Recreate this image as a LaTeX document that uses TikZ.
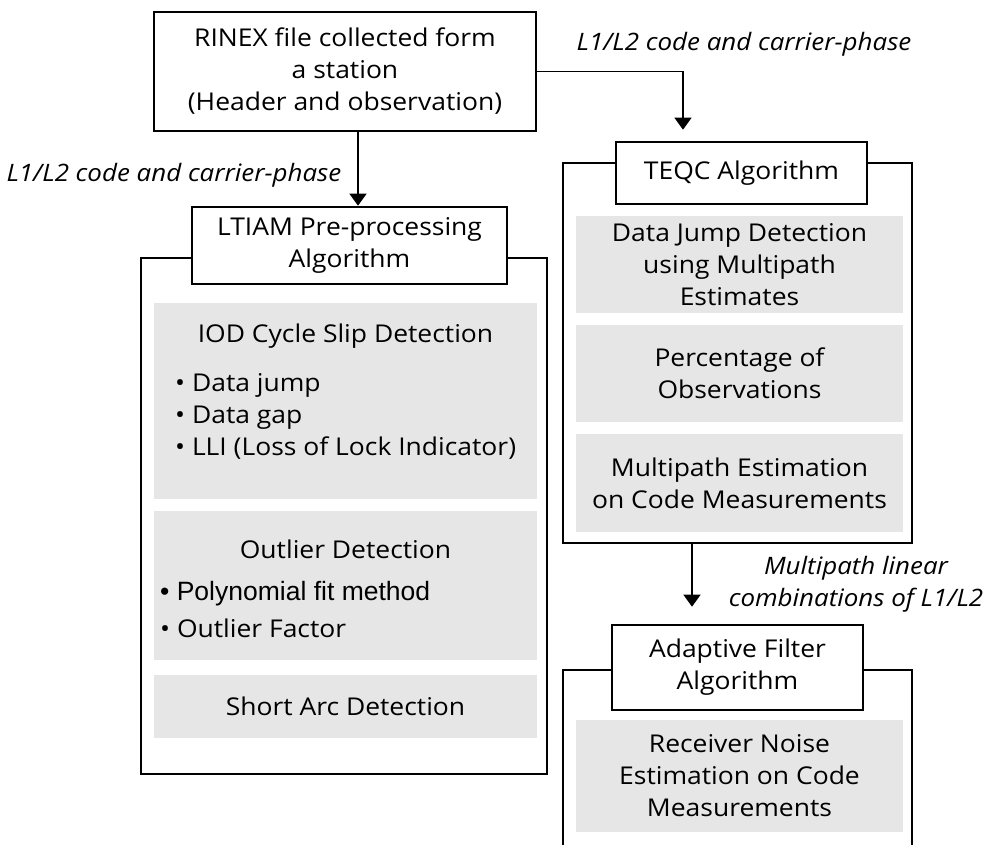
\documentclass[tikz,border=0pt]{standalone}
\usepackage{fontspec}
\setmainfont{Open Sans}[FakeStretch=1.08]
\newfontfamily\arialfont{Liberation Sans}
\usetikzlibrary{arrows.meta}

\definecolor{boxgray}{HTML}{E6E6E6}

\tikzset{
	titlebox/.style={draw, line width=2.6pt, fill=white, align=center, inner sep=0pt},
	graybox/.style={fill=boxgray, align=center, inner sep=0pt},
	framebox/.style={draw, line width=2.6pt, inner sep=0pt},
	bullets/.style={anchor=west, align=left, inner sep=0pt},
	flow/.style={line width=1.3pt, -{Triangle[width=17pt, length=12pt]}},
	lbl/.style={font=\fontsize{24}{32}\selectfont\itshape, inner sep=0pt, align=center},
}

\begin{document}
\begin{tikzpicture}[x=1pt, y=-1pt, font=\fontsize{24.5}{32}\selectfont]
	\useasboundingbox (0,0) rectangle (997,845);
	
	% outer frames
	\node [framebox, minimum width=406pt, minimum height=516pt] (lfrm) at (344,516) {};
	\node [framebox, minimum width=349pt, minimum height=380pt] (tfrm) at (737.5,353) {};
	\draw [line width=2.6pt] (563,850) -- (563,670) -- (912,670) -- (912,850);
	
	% title boxes
	\node [titlebox, minimum width=382pt, minimum height=119pt] (rinex) at (345,71.5)
		{RINEX file collected form\\a station\\(Header and observation)};
	\node [titlebox, minimum width=315pt, minimum height=77pt] (ltiam) at (349.5,245.5)
		{LTIAM Pre-processing\\Algorithm};
	\node [titlebox, minimum width=251pt, minimum height=62pt] (teqc) at (741.5,173)
		{TEQC Algorithm};
	\node [titlebox, minimum width=251pt, minimum height=85pt] (adapt) at (737.5,667.5)
		{Adaptive Filter\\Algorithm};
	
	% LTIAM steps
	\node [graybox, minimum width=383pt, minimum height=196pt] (iod) at (345.5,401) {};
	\node (iodt) at (345.5,336) {IOD Cycle Slip Detection};
	\node [bullets] (iodl) at (175,416)
		{• Data jump\\• Data gap\\• LLI (Loss of Lock Indicator)};
	
	\node [graybox, minimum width=383pt, minimum height=149pt] (outl) at (345.5,585.5) {};
	\node (outlt) at (345.5,549) {Outlier Detection};
	\node [bullets, font=\arialfont\fontsize{26.5}{32}\selectfont] (outla) at (160,594)
		{• Polynomial fit method};
	\node [bullets] (outlb) at (160,628) {• Outlier Factor};
	
	\node [graybox, minimum width=383pt, minimum height=63pt] (sarc) at (345.5,706.5)
		{Short Arc Detection};
	
	% TEQC steps
	\node [graybox, minimum width=327pt, minimum height=97pt] (jump) at (739.5,264.5)
		{Data Jump Detection\\using Multipath\\Estimates};
	\node [graybox, minimum width=327pt, minimum height=97pt] (perc) at (739.5,373.5)
		{Percentage of\\Observations};
	\node [graybox, minimum width=327pt, minimum height=98pt] (mpest) at (739.5,483)
		{Multipath Estimation\\on Code Measurements};
	
	% adaptive filter step
	\node [graybox, minimum width=327pt, minimum height=112pt] (noise) at (739.5,776)
		{Receiver Noise\\Estimation on Code\\Measurements};
	
	% data flow
	\draw [flow] ([xshift=13pt]rinex.south) -- ([xshift=8.5pt]ltiam.north)
		node [lbl, midway, left=16pt, yshift=-6pt] (lbla) {L1/L2 code and carrier-phase};
	\draw [flow] (rinex.east) -| ([xshift=-58.5pt, yshift=11pt]teqc.north);
	\node [lbl] (lblb) at (744,44) {L1/L2 code and carrier-phase};
	\draw [flow] ([xshift=-45.5pt]tfrm.south) -- ([xshift=-45.5pt, yshift=17pt]adapt.north);
	\node [lbl] (lblc) at (856,584) {Multipath linear\\combinations of L1/L2};
\end{tikzpicture}
\end{document}
